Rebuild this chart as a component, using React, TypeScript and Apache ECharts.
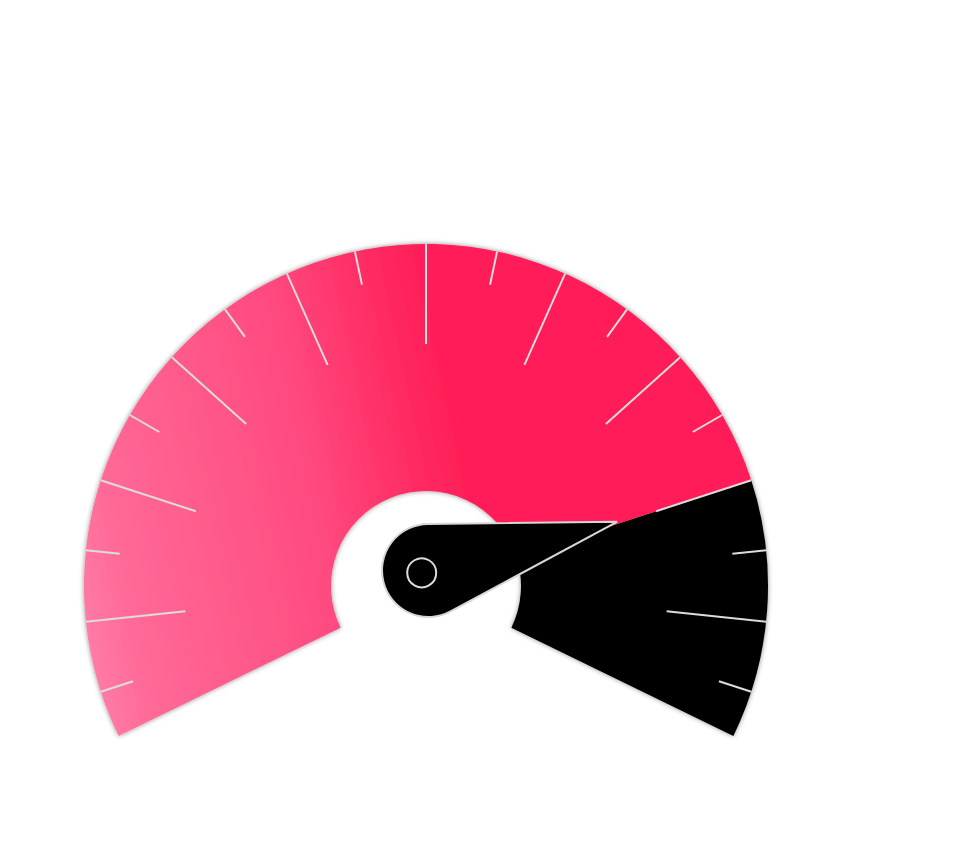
import React, { useEffect, useRef } from 'react';
import * as echarts from 'echarts';

// ---- data ----
const gaugeMin = 0;
const gaugeMax = 100;
const gaugeValues = [80];
const scaleStartAngle = 210;
const scaleEndAngle = -30;
const scaleSplits = 10;
const arcStartAngle = 206;
const arcEndAngle = -26;

const CENTER: [number, number] = [426, 586];
const RADIUS = 342;
const RING_WIDTH = 247;

export default function App() {
  const ref = useRef<HTMLDivElement>(null);

  useEffect(() => {
    if (!ref.current) return;
    const chart = echarts.init(ref.current, undefined, { renderer: 'svg' });

    const step = (scaleStartAngle - scaleEndAngle) / scaleSplits;
    const valueAngle =
      scaleStartAngle -
      ((gaugeValues[0] - gaugeMin) / (gaugeMax - gaugeMin)) * (scaleStartAngle - scaleEndAngle);
    const stop = (arcStartAngle - valueAngle) / (arcStartAngle - arcEndAngle);

    const pink = new echarts.graphic.LinearGradient(
      85, 663, 485, 576.6,
      [
        { offset: 0, color: '#ff7ea8' },
        { offset: 0.13, color: '#ff6a97' },
        { offset: 0.63, color: '#ff4a80' },
        { offset: 0.85, color: '#ff2f66' },
        { offset: 1, color: '#ff1f58' },
      ],
      true
    );

    const hidden = {
      splitLine: { show: false },
      axisTick: { show: false },
      axisLabel: { show: false },
      title: { show: false },
      detail: { show: false },
    };

    chart.setOption({
      animation: false,
      series: [
        {
          type: 'gauge',
          center: CENTER,
          radius: RADIUS,
          startAngle: arcStartAngle,
          endAngle: arcEndAngle,
          min: gaugeMin,
          max: gaugeMax,
          axisLine: {
            show: true,
            lineStyle: {
              width: RING_WIDTH,
              color: [
                [stop, pink],
                [1, '#000000'],
              ],
              shadowBlur: 5,
              shadowColor: 'rgba(0,0,0,0.45)',
            },
          },
          pointer: { show: false },
          anchor: { show: false },
          ...hidden,
          data: gaugeValues.map((v) => ({ value: v })),
        },
        {
          type: 'gauge',
          center: CENTER,
          radius: RADIUS,
          startAngle: scaleStartAngle - step,
          endAngle: scaleEndAngle + step,
          splitNumber: scaleSplits - 2,
          min: gaugeMin + (gaugeMax - gaugeMin) / scaleSplits,
          max: gaugeMax - (gaugeMax - gaugeMin) / scaleSplits,
          axisLine: { show: false, lineStyle: { width: 0 } },
          pointer: { show: false },
          anchor: { show: false },
          ...hidden,
          splitLine: {
            show: true,
            length: 100,
            distance: 0,
            lineStyle: { color: '#dcdcdc', width: 2 },
          },
          data: [],
        },
        {
          type: 'gauge',
          center: CENTER,
          radius: RADIUS,
          startAngle: scaleStartAngle - step / 2,
          endAngle: scaleEndAngle + step / 2,
          splitNumber: scaleSplits - 1,
          min: gaugeMin + (gaugeMax - gaugeMin) / scaleSplits / 2,
          max: gaugeMax - (gaugeMax - gaugeMin) / scaleSplits / 2,
          axisLine: { show: false, lineStyle: { width: 0 } },
          pointer: { show: false },
          anchor: { show: false },
          ...hidden,
          splitLine: {
            show: true,
            length: 34,
            distance: 0,
            lineStyle: { color: '#dcdcdc', width: 2 },
          },
          data: [],
        },
        {
          type: 'gauge',
          center: CENTER,
          radius: RADIUS,
          startAngle: scaleStartAngle,
          endAngle: scaleEndAngle,
          splitNumber: scaleSplits,
          min: gaugeMin,
          max: gaugeMax,
          axisLine: { show: false, lineStyle: { width: 0 } },
          ...hidden,
          pointer: {
            show: true,
            icon: 'path://M-2.04 -201.5 L31.78 -15.49 A46.5 46.5 0 1 1 -58.36 -21.02 Z',
            width: 93,
            length: 240.83,
            offsetCenter: [-13.97, 39.33],
            keepAspect: false,
            itemStyle: { color: '#000000', borderColor: '#d6d6d6', borderWidth: 2 },
          },
          anchor: {
            show: true,
            showAbove: true,
            icon: 'circle',
            size: 29,
            offsetCenter: [-4.3, -13.2],
            itemStyle: { color: '#000000', borderColor: '#dcdcdc', borderWidth: 2 },
          },
          data: gaugeValues.map((v) => ({ value: v })),
        },
      ],
    });

    return () => chart.dispose();
  }, []);

  return (
    <div
      ref={ref}
      style={{ position: 'absolute', left: 0, top: 0, width: 979, height: 855 }}
    />
  );
}
